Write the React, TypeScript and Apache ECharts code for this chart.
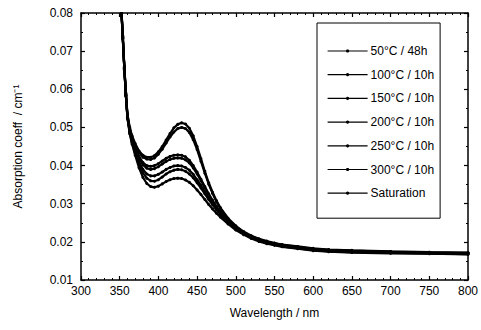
import React, { useEffect, useRef } from "react";
import * as echarts from "echarts";

const wavelengths = [350, 352, 354, 356, 358, 360, 363, 366, 370, 375, 380, 385, 390, 395, 400, 405, 410, 415, 420, 425, 430, 435, 440, 445, 450, 455, 460, 465, 470, 475, 480, 490, 500, 510, 520, 530, 540, 550, 560, 580, 600, 620, 650, 700, 750, 800];

const seriesNames = ["50°C / 48h", "100°C / 10h", "150°C / 10h", "200°C / 10h", "250°C / 10h", "300°C / 10h", "Saturation"];

const curveA = [0.0920, 0.0820, 0.0740, 0.0660, 0.0590, 0.0535, 0.0500, 0.0478, 0.0458, 0.0438, 0.0427, 0.0422, 0.0422, 0.0426, 0.0436, 0.0450, 0.0467, 0.0484, 0.0499, 0.0508, 0.0512, 0.0509, 0.0498, 0.0478, 0.0450, 0.0418, 0.0385, 0.0355, 0.0330, 0.0308, 0.0290, 0.0262, 0.0242, 0.0227, 0.0216, 0.0208, 0.0202, 0.0197, 0.0193, 0.0188, 0.0183, 0.0180, 0.0178, 0.0175, 0.0173, 0.0172];
const curveB = [0.0918, 0.0818, 0.0738, 0.0658, 0.0588, 0.0533, 0.0497, 0.0475, 0.0454, 0.0434, 0.0422, 0.0417, 0.0416, 0.0420, 0.0430, 0.0443, 0.0459, 0.0475, 0.0488, 0.0497, 0.0500, 0.0497, 0.0487, 0.0468, 0.0442, 0.0411, 0.0380, 0.0351, 0.0327, 0.0305, 0.0288, 0.0260, 0.0240, 0.0226, 0.0215, 0.0207, 0.0201, 0.0196, 0.0192, 0.0187, 0.0182, 0.0179, 0.0177, 0.0174, 0.0172, 0.0171];
const curveC = [0.0916, 0.0816, 0.0736, 0.0656, 0.0586, 0.0530, 0.0493, 0.0470, 0.0447, 0.0424, 0.0408, 0.0400, 0.0398, 0.0400, 0.0405, 0.0412, 0.0419, 0.0424, 0.0427, 0.0428, 0.0427, 0.0423, 0.0414, 0.0400, 0.0383, 0.0364, 0.0345, 0.0326, 0.0309, 0.0293, 0.0279, 0.0256, 0.0238, 0.0224, 0.0214, 0.0206, 0.0200, 0.0195, 0.0191, 0.0186, 0.0181, 0.0178, 0.0176, 0.0174, 0.0172, 0.0170];
const curveD = [0.0915, 0.0815, 0.0735, 0.0655, 0.0585, 0.0529, 0.0491, 0.0467, 0.0443, 0.0419, 0.0402, 0.0393, 0.0390, 0.0392, 0.0397, 0.0404, 0.0411, 0.0416, 0.0419, 0.0420, 0.0419, 0.0415, 0.0407, 0.0394, 0.0378, 0.0360, 0.0342, 0.0324, 0.0307, 0.0291, 0.0277, 0.0255, 0.0237, 0.0223, 0.0213, 0.0205, 0.0199, 0.0194, 0.0190, 0.0185, 0.0180, 0.0177, 0.0175, 0.0173, 0.0171, 0.0170];
const curveE = [0.0914, 0.0814, 0.0734, 0.0654, 0.0584, 0.0527, 0.0488, 0.0463, 0.0437, 0.0410, 0.0390, 0.0378, 0.0373, 0.0373, 0.0377, 0.0383, 0.0390, 0.0395, 0.0399, 0.0400, 0.0399, 0.0395, 0.0388, 0.0377, 0.0363, 0.0348, 0.0332, 0.0316, 0.0301, 0.0287, 0.0274, 0.0253, 0.0236, 0.0222, 0.0212, 0.0204, 0.0198, 0.0193, 0.0189, 0.0184, 0.0179, 0.0176, 0.0174, 0.0172, 0.0170, 0.0169];
const curveF = [0.0913, 0.0813, 0.0733, 0.0653, 0.0583, 0.0526, 0.0486, 0.0460, 0.0433, 0.0404, 0.0381, 0.0367, 0.0360, 0.0359, 0.0363, 0.0370, 0.0378, 0.0384, 0.0388, 0.0390, 0.0389, 0.0385, 0.0378, 0.0368, 0.0355, 0.0341, 0.0326, 0.0311, 0.0297, 0.0284, 0.0272, 0.0251, 0.0234, 0.0221, 0.0211, 0.0203, 0.0197, 0.0192, 0.0188, 0.0183, 0.0178, 0.0175, 0.0173, 0.0171, 0.0170, 0.0168];
const curveG = [0.0912, 0.0812, 0.0732, 0.0652, 0.0582, 0.0524, 0.0483, 0.0456, 0.0427, 0.0394, 0.0369, 0.0353, 0.0345, 0.0343, 0.0346, 0.0352, 0.0358, 0.0363, 0.0366, 0.0367, 0.0366, 0.0362, 0.0356, 0.0347, 0.0336, 0.0324, 0.0311, 0.0298, 0.0286, 0.0275, 0.0265, 0.0247, 0.0231, 0.0219, 0.0209, 0.0201, 0.0195, 0.0191, 0.0187, 0.0182, 0.0177, 0.0174, 0.0172, 0.0170, 0.0169, 0.0167];

const curves = [curveA, curveB, curveC, curveD, curveE, curveF, curveG];

const FONT = "Liberation Sans, Arial, sans-serif";

export default function App() {
  const ref = useRef<HTMLDivElement>(null);
  useEffect(() => {
    if (!ref.current) return;
    const chart = echarts.init(ref.current, null, { renderer: "svg" });
    const axisLine = { show: true, lineStyle: { color: "#000", width: 1.5 } };
    const tick = { show: true, inside: true, length: 4, lineStyle: { color: "#000", width: 1.2 } };
    const minor = { show: true, splitNumber: 5, length: 2, lineStyle: { color: "#000", width: 1 } };
    const minorY = { show: true, splitNumber: 2, length: 2, lineStyle: { color: "#000", width: 1 } };
    chart.setOption({
      animation: false,
      backgroundColor: "#fff",
      grid: { left: 81, top: 13, right: 13, bottom: 50, containLabel: false },
      legend: {
        orient: "vertical",
        left: 317,
        top: 23,
        padding: [21, 6, 18, 10],
        itemWidth: 40,
        itemHeight: 4,
        itemGap: 9.7,
        borderColor: "#000",
        borderWidth: 1,
        lineStyle: { width: 1.2 },
        textStyle: { fontFamily: FONT, fontSize: 12, lineHeight: 14, height: 14, color: "#000", padding: [0, 0, 0, -2] },
        data: seriesNames,
      },
      xAxis: [
        {
          type: "value",
          min: 300,
          max: 800,
          interval: 50,
          position: "bottom",
          name: "Wavelength / nm",
          nameLocation: "middle",
          nameGap: 27,
          nameTextStyle: { fontFamily: FONT, fontSize: 12, color: "#000" },
          axisLine,
          axisTick: tick,
          minorTick: minor,
          splitLine: { show: false },
          axisLabel: { fontFamily: FONT, fontSize: 12, color: "#000", margin: 5 },
        },
        {
          type: "value",
          min: 300,
          max: 800,
          interval: 50,
          position: "top",
          axisLine,
          axisTick: tick,
          minorTick: minor,
          splitLine: { show: false },
          axisLabel: { show: false },
        },
      ],
      yAxis: [
        {
          type: "value",
          min: 0.01,
          max: 0.08,
          interval: 0.01,
          position: "left",
          name: "Absorption coeff  / cm⁻¹",
          nameLocation: "middle",
          nameGap: 57,
          nameTextStyle: { fontFamily: FONT, fontSize: 12, color: "#000" },
          axisLine,
          axisTick: tick,
          minorTick: minorY,
          splitLine: { show: false },
          axisLabel: {
            fontFamily: FONT,
            fontSize: 12,
            color: "#000",
            margin: 8,
            formatter: (v: number) => v.toFixed(2),
          },
        },
        {
          type: "value",
          min: 0.01,
          max: 0.08,
          interval: 0.01,
          position: "right",
          axisLine,
          axisTick: tick,
          minorTick: minorY,
          splitLine: { show: false },
          axisLabel: { show: false },
        },
      ],
      series: curves.map((c, i) => ({
        name: seriesNames[i],
        type: "line",
        xAxisIndex: 0,
        yAxisIndex: 0,
        data: wavelengths.map((w, j) => [w, c[j]]),
        clip: true,
        symbol: "circle",
        symbolSize: 3,
        showSymbol: true,
        showAllSymbol: true,
        lineStyle: { color: "#000", width: 2.2 },
        itemStyle: { color: "#000" },
      })),
    });
    return () => chart.dispose();
  }, []);
  return <div ref={ref} style={{ width: 481, height: 330, position: "absolute", left: 0, top: 0 }} />;
}
